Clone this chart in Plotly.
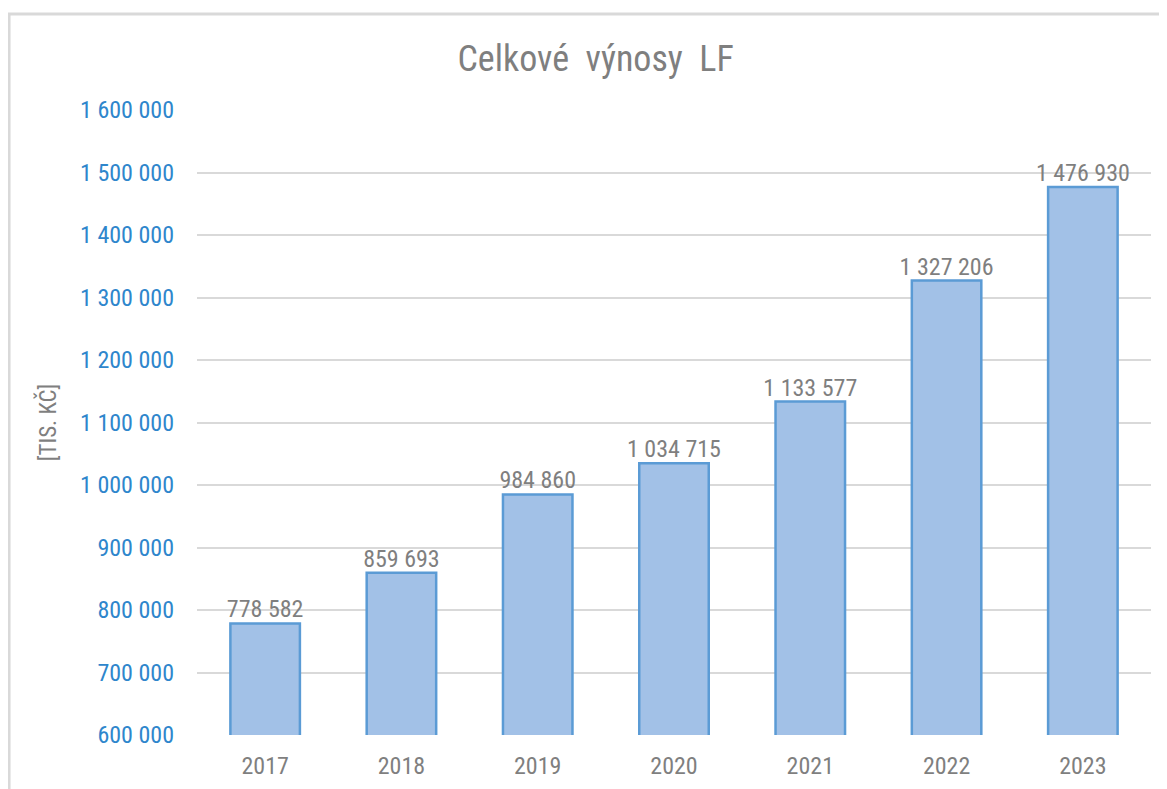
import plotly.graph_objects as go

# Celkové výnosy LF, tis. Kč
years = ["2017", "2018", "2019", "2020", "2021", "2022", "2023"]
revenues = [778582, 859693, 984860, 1034715, 1133577, 1327206, 1476930]
y_ticks = [600000, 700000, 800000, 900000, 1000000, 1100000, 1200000,
           1300000, 1400000, 1500000, 1600000]

font_family = "Roboto Condensed, Liberation Sans Narrow, Arial Narrow, Roboto, sans-serif"
gray = "#7f7f7f"

fig = go.Figure(go.Bar(
    x=years,
    y=revenues,
    marker=dict(color="#a2c1e7", line=dict(color="#5b9bd5", width=2.5)),
    cliponaxis=False,
))

# value labels above the bars
fig.add_trace(go.Scatter(
    x=years,
    y=revenues,
    mode="text",
    texttemplate="%{y:,d}",
    textposition="top center",
    textfont=dict(color=gray, size=24, family=font_family),
    cliponaxis=False,
    hoverinfo="skip",
))

# page body has an 8px margin, so the figure is a bit smaller than the window
fig.update_layout(
    width=1159,
    height=781,
    margin=dict(l=189, r=16, t=102, b=54),
    paper_bgcolor="white",
    plot_bgcolor="white",
    separators=", ",
    bargap=0.49,
    showlegend=False,
    title=dict(text="Celkové  výnosy  LF", x=0.507, xanchor="center", y=0.936, yanchor="middle",
               font=dict(size=36, color=gray, family=font_family)),
    font=dict(family=font_family),
)

fig.update_yaxes(
    range=[600000, 1600000],
    tickvals=y_ticks,
    tickformat=",d",
    tickfont=dict(size=24, color="#2e86cc"),
    gridcolor="#d9d9d9",
    gridwidth=2,
    zeroline=False,
    showline=False,
    automargin=False,
    ticklabelstandoff=22,
    title=dict(text="[TIS. KČ]", font=dict(size=23, color=gray), standoff=16),
)

fig.update_xaxes(
    type="category",
    tickfont=dict(size=24, color=gray),
    showline=False,
    automargin=False,
    ticklabelstandoff=14,
)

# outer chart frame
fig.add_shape(type="rect", xref="paper", yref="paper",
              x0=-0.197, x1=1.1, y0=-0.2, y1=1.1536,
              line=dict(color="#d9d9d9", width=3), layer="below")

fig.write_html("out.html")
